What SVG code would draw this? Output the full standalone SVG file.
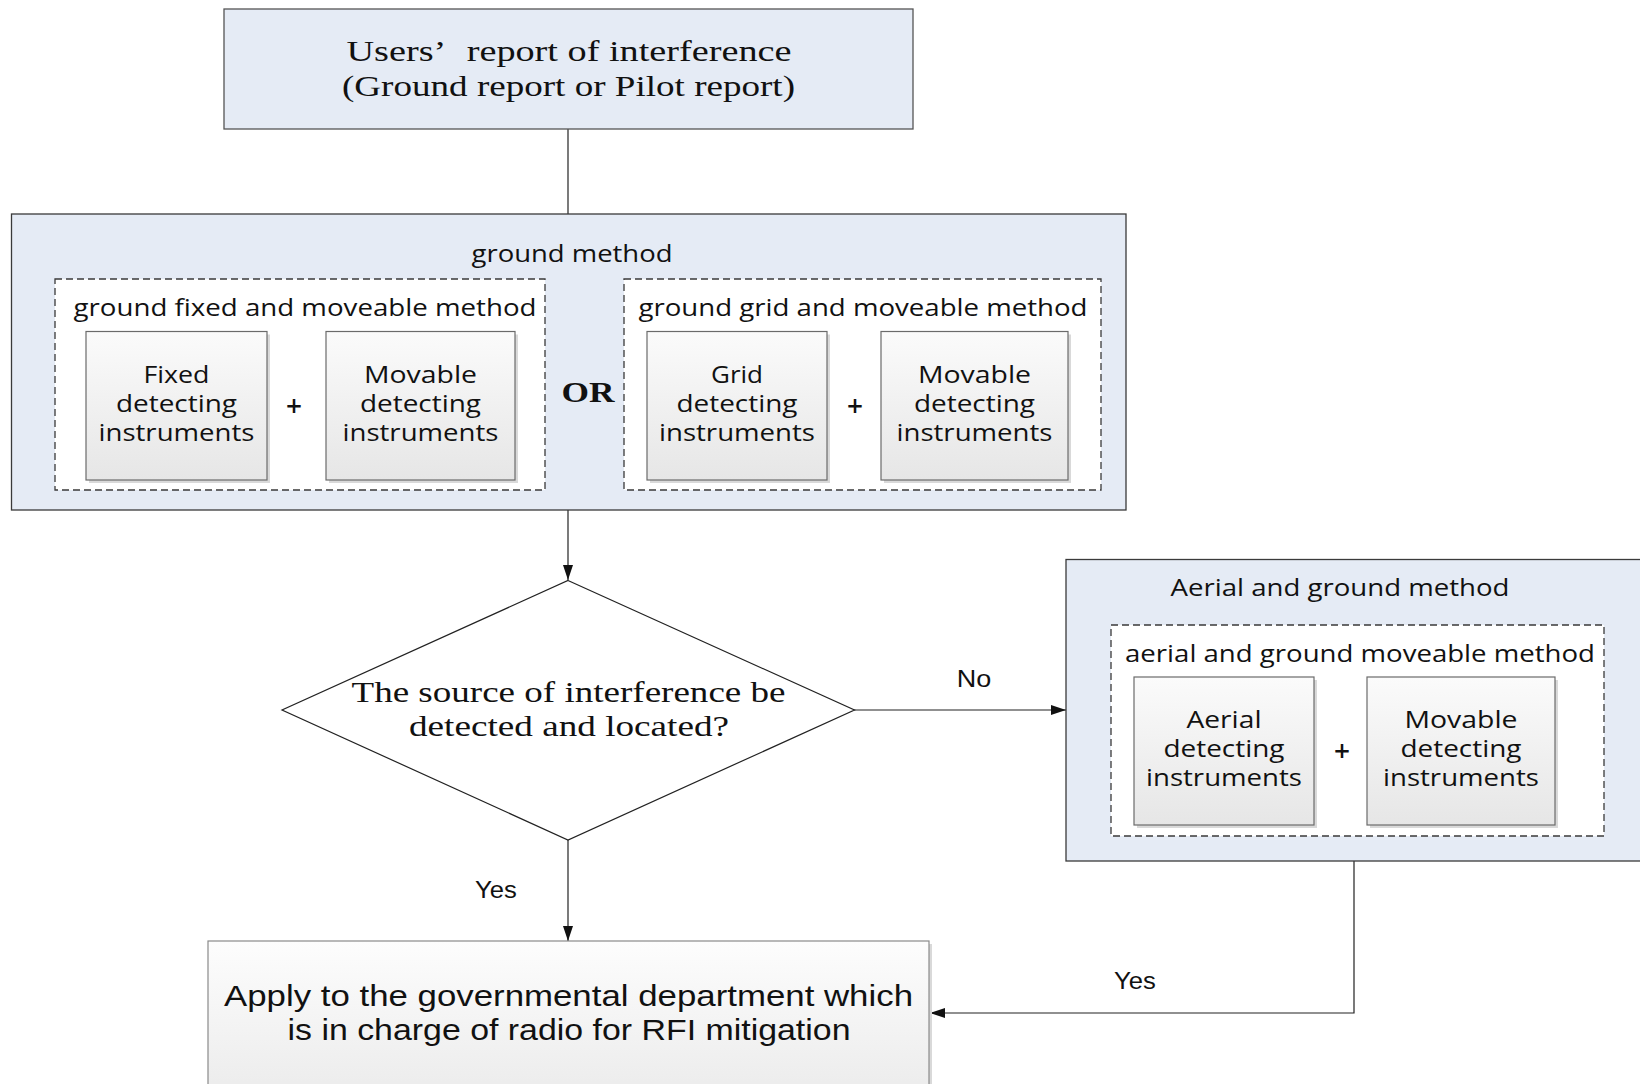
<svg xmlns="http://www.w3.org/2000/svg" width="1640" height="1084" viewBox="0 0 1640 1084">
<style>
.blue{fill:#E5EBF5;stroke:#3a3a3a;stroke-width:1.3}
.dash{fill:#ffffff;stroke:#3a3a3a;stroke-width:1.3;stroke-dasharray:7 4}
.sub{fill:url(#g);stroke:#6b6b6b;stroke-width:1.2}
.shadow{fill:#d9d9d9}
.serif{font-family:"Liberation Serif","Times New Roman",serif;fill:#111;font-size:30px}
.sans{font-family:"Open Sans","Noto Sans",sans-serif;fill:#111;font-size:23.5px}
.plus{font-family:"Open Sans","Noto Sans",sans-serif;fill:#111;font-size:28px;font-weight:600}
.narrow{font-family:"Liberation Sans Narrow","Liberation Sans",sans-serif;fill:#111}
.line{stroke:#222;stroke-width:1.2;fill:none}
text{text-anchor:middle}
</style>
<defs>
<linearGradient id="g" x1="0" y1="0" x2="0" y2="1">
<stop offset="0" stop-color="#fbfbfb"/>
<stop offset="1" stop-color="#e6e6e6"/>
</linearGradient>
<linearGradient id="g2" x1="0" y1="0" x2="0" y2="1">
<stop offset="0" stop-color="#fdfdfd"/>
<stop offset="1" stop-color="#ececec"/>
</linearGradient>
<marker id="arr" viewBox="0 0 15 11" refX="15" refY="5.5" markerWidth="15" markerHeight="11" markerUnits="userSpaceOnUse" orient="auto">
<path d="M0,0.5 L15,5.5 L0,10.5 Z" fill="#111"/>
</marker>
</defs>
<rect width="1640" height="1084" fill="#ffffff"/>

<g id="connectors">
<line class="line" x1="568" y1="129" x2="568" y2="214"/>
<line class="line" x1="568" y1="510" x2="568" y2="580" marker-end="url(#arr)"/>
<line class="line" x1="854" y1="710" x2="1066" y2="710" marker-end="url(#arr)"/>
<line class="line" x1="568" y1="840" x2="568" y2="941" marker-end="url(#arr)"/>
<polyline class="line" points="1354,861 1354,1013 930,1013" marker-end="url(#arr)"/>
<text class="narrow" x="974" y="687" font-size="23" textLength="34.5" lengthAdjust="spacingAndGlyphs">No</text>
<text class="narrow" x="496" y="898" font-size="23" textLength="41.8" lengthAdjust="spacingAndGlyphs">Yes</text>
<text class="narrow" x="1135" y="989" font-size="23" textLength="41.8" lengthAdjust="spacingAndGlyphs">Yes</text>
</g>

<g id="users-report">
<rect class="blue" x="224" y="9" width="689" height="120" style="stroke:#555"/>
<text class="serif" x="569" y="61" textLength="445" lengthAdjust="spacingAndGlyphs">Users’<tspan dx="16">report of interference</tspan></text>
<text class="serif" x="568.5" y="96" textLength="453" lengthAdjust="spacingAndGlyphs">(Ground report or Pilot report)</text>
</g>

<g id="ground-method">
<rect class="blue" x="11.5" y="214" width="1114.5" height="296"/>
<text class="sans" x="572" y="262" textLength="201" lengthAdjust="spacingAndGlyphs">ground method</text>
</g>

<g id="ground-fixed-moveable">
<rect class="dash" x="55" y="279" width="490" height="211"/>
<text class="sans" x="305" y="316" textLength="463" lengthAdjust="spacingAndGlyphs">ground fixed and moveable method</text>
</g>

<g id="fixed-instruments">
<rect class="shadow" x="89" y="334.5" width="181" height="148.5"/>
<rect class="sub" x="86" y="331.5" width="181" height="148.5"/>
<text class="sans" x="176.5" y="383" textLength="66" lengthAdjust="spacingAndGlyphs">Fixed</text>
<text class="sans" x="176.5" y="412" textLength="121" lengthAdjust="spacingAndGlyphs">detecting</text>
<text class="sans" x="176.5" y="441" textLength="156" lengthAdjust="spacingAndGlyphs">instruments</text>
</g>
<text class="plus" x="294" y="416">+</text>
<g id="movable-instruments-1">
<rect class="shadow" x="329" y="334.5" width="189" height="148.5"/>
<rect class="sub" x="326" y="331.5" width="189" height="148.5"/>
<text class="sans" x="420.5" y="383" textLength="113" lengthAdjust="spacingAndGlyphs">Movable</text>
<text class="sans" x="420.5" y="412" textLength="121" lengthAdjust="spacingAndGlyphs">detecting</text>
<text class="sans" x="420.5" y="441" textLength="156" lengthAdjust="spacingAndGlyphs">instruments</text>
</g>

<text class="serif" x="588" y="402" font-size="28" font-weight="bold" textLength="53" lengthAdjust="spacingAndGlyphs">OR</text>

<g id="ground-grid-moveable">
<rect class="dash" x="624" y="279" width="477" height="211"/>
<text class="sans" x="863" y="316" textLength="449" lengthAdjust="spacingAndGlyphs">ground grid and moveable method</text>
</g>

<g id="grid-instruments">
<rect class="shadow" x="650" y="334.5" width="180" height="148.5"/>
<rect class="sub" x="647" y="331.5" width="180" height="148.5"/>
<text class="sans" x="737" y="383" textLength="52" lengthAdjust="spacingAndGlyphs">Grid</text>
<text class="sans" x="737" y="412" textLength="121" lengthAdjust="spacingAndGlyphs">detecting</text>
<text class="sans" x="737" y="441" textLength="156" lengthAdjust="spacingAndGlyphs">instruments</text>
</g>
<text class="plus" x="855" y="416">+</text>
<g id="movable-instruments-2">
<rect class="shadow" x="884" y="334.5" width="187" height="148.5"/>
<rect class="sub" x="881" y="331.5" width="187" height="148.5"/>
<text class="sans" x="974.5" y="383" textLength="113" lengthAdjust="spacingAndGlyphs">Movable</text>
<text class="sans" x="974.5" y="412" textLength="121" lengthAdjust="spacingAndGlyphs">detecting</text>
<text class="sans" x="974.5" y="441" textLength="156" lengthAdjust="spacingAndGlyphs">instruments</text>
</g>

<g id="decision">
<polygon points="568,580.5 854.5,710 568,840 282,710" fill="#ffffff" stroke="#222" stroke-width="1.2"/>
<text class="serif" x="568.5" y="702" textLength="434" lengthAdjust="spacingAndGlyphs">The source of interference be</text>
<text class="serif" x="569" y="736" textLength="320" lengthAdjust="spacingAndGlyphs">detected and located?</text>
</g>

<g id="aerial-ground-method">
<rect class="blue" x="1066" y="559.5" width="600" height="301.5"/>
<text class="sans" x="1340" y="596" textLength="339" lengthAdjust="spacingAndGlyphs">Aerial and ground method</text>
</g>

<g id="aerial-ground-moveable">
<rect class="dash" x="1111" y="625" width="493" height="211"/>
<text class="sans" x="1360" y="662" textLength="470" lengthAdjust="spacingAndGlyphs">aerial and ground moveable method</text>
</g>

<g id="aerial-instruments">
<rect class="shadow" x="1137" y="680" width="180" height="148"/>
<rect class="sub" x="1134" y="677" width="180" height="148"/>
<text class="sans" x="1224" y="728" textLength="75" lengthAdjust="spacingAndGlyphs">Aerial</text>
<text class="sans" x="1224" y="757" textLength="121" lengthAdjust="spacingAndGlyphs">detecting</text>
<text class="sans" x="1224" y="786" textLength="156" lengthAdjust="spacingAndGlyphs">instruments</text>
</g>
<text class="plus" x="1342" y="761">+</text>
<g id="movable-instruments-3">
<rect class="shadow" x="1370" y="680" width="188" height="148"/>
<rect class="sub" x="1367" y="677" width="188" height="148"/>
<text class="sans" x="1461" y="728" textLength="113" lengthAdjust="spacingAndGlyphs">Movable</text>
<text class="sans" x="1461" y="757" textLength="121" lengthAdjust="spacingAndGlyphs">detecting</text>
<text class="sans" x="1461" y="786" textLength="156" lengthAdjust="spacingAndGlyphs">instruments</text>
</g>

<g id="apply">
<rect class="shadow" x="211" y="944" width="721" height="150"/>
<rect x="208" y="941" width="721" height="150" fill="url(#g2)" stroke="#8a8a8a" stroke-width="1.2"/>
<text class="narrow" x="568.5" y="1006" font-size="29" textLength="689" lengthAdjust="spacingAndGlyphs">Apply to the governmental department which</text>
<text class="narrow" x="569" y="1040" font-size="29" textLength="563" lengthAdjust="spacingAndGlyphs">is in charge of radio for RFI mitigation</text>
</g>
</svg>
